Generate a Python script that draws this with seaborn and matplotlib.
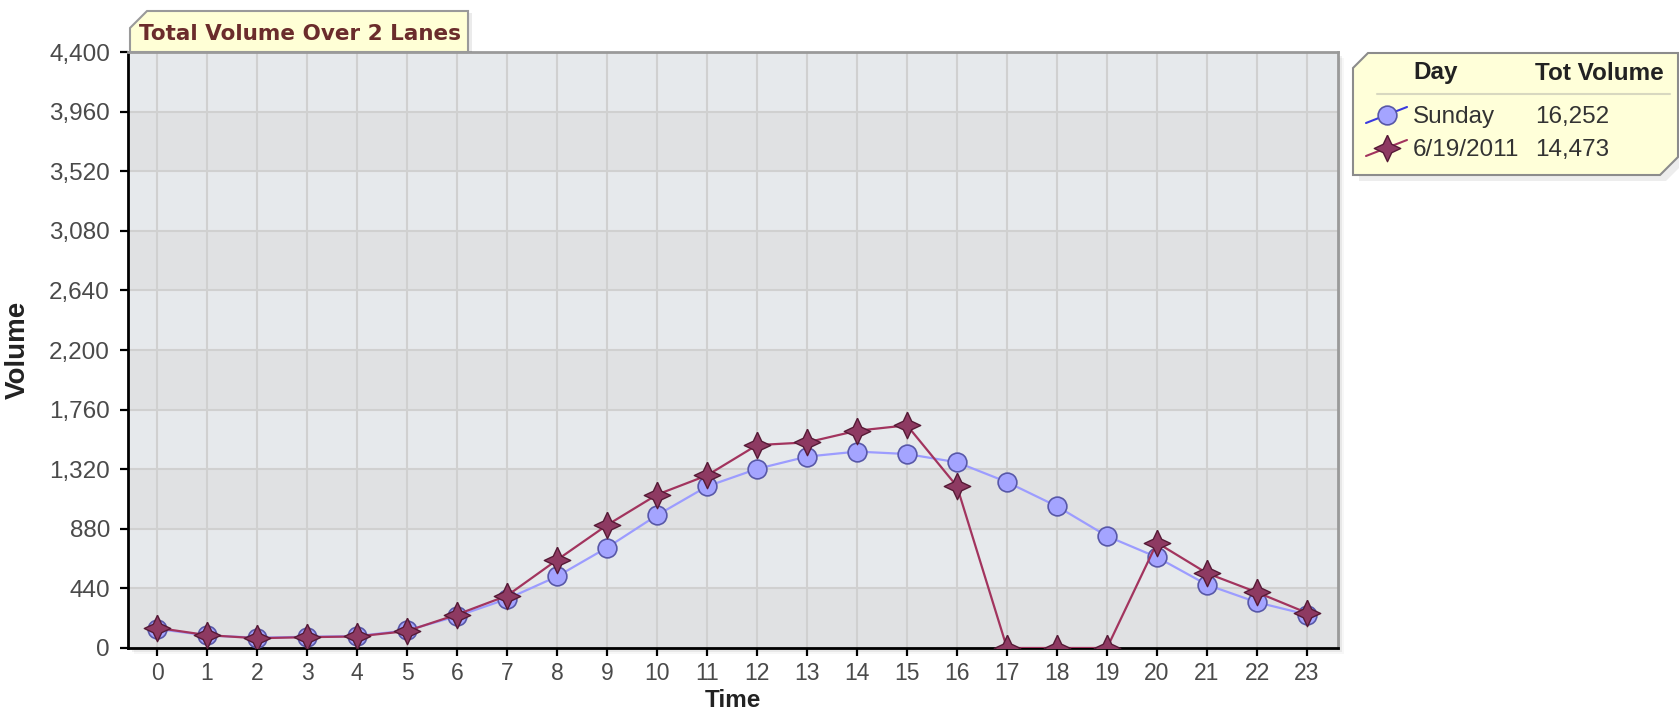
import matplotlib
matplotlib.use("Agg")
import matplotlib.pyplot as plt
from matplotlib.patches import Polygon
from matplotlib.lines import Line2D
from matplotlib.ticker import FuncFormatter
import seaborn as sns

# ---------------- data ----------------
hours = list(range(24))
sunday = [141, 93, 76, 83, 88, 130, 235, 362, 528, 741, 980, 1193,
          1322, 1413, 1450, 1432, 1371, 1225, 1046, 826, 670, 467, 337, 247]
day_2011 = [149, 95, 72, 80, 85, 125, 247, 386, 650, 907, 1132, 1274,
            1498, 1518, 1604, 1644, 1193, 0, 0, 0, 777, 552, 411, 259]
series_names = ["Sunday", "6/19/2011"]
series_totals = ["16,252", "14,473"]
y_ticks = [0, 440, 880, 1320, 1760, 2200, 2640, 3080, 3520, 3960, 4400]
title_text = "Total Volume Over 2 Lanes"
legend_headers = ["Day", "Tot Volume"]

# ---------------- style ----------------
sns.set_style("white")
plt.rcParams["font.family"] = ["Liberation Sans", "DejaVu Sans"]

W, H = 1679, 713
fig = plt.figure(figsize=(W / 100, H / 100), dpi=100)
fig.patch.set_facecolor("white")

AX_L, AX_R, AX_T, AX_B = 128, 1338, 52, 648
ax = fig.add_axes([AX_L / W, 1 - AX_B / H, (AX_R - AX_L) / W, (AX_B - AX_T) / H])

# background / foreground overlay axes in pixel coordinates (decoration only)
bg = fig.add_axes([0, 0, 1, 1], zorder=-1)
bg.set_xlim(0, W); bg.set_ylim(H, 0); bg.axis("off")
ov = fig.add_axes([0, 0, 1, 1], zorder=10)
ov.set_xlim(0, W); ov.set_ylim(H, 0); ov.axis("off")

# axes shadow
for i, a in enumerate([0.10, 0.06, 0.03]):
    off = 2 + i * 2
    bg.add_patch(Polygon([(AX_L + off, AX_T + off), (AX_R + off, AX_T + off),
                          (AX_R + off, AX_B + off), (AX_L + off, AX_B + off)],
                         closed=True, facecolor="black", alpha=a, edgecolor="none"))

# alternating bands
light, dark = "#e6e9ec", "#e0e1e3"
for i in range(len(y_ticks) - 1):
    ax.axhspan(y_ticks[i], y_ticks[i + 1], color=dark if i % 2 == 0 else light,
               zorder=0.1, lw=0)

ax.set_xlim(-0.58, 23.62)
ax.set_ylim(0, 4400)
ax.set_xticks(hours)
ax.set_yticks(y_ticks)
ax.yaxis.set_major_formatter(FuncFormatter(lambda v, p: f"{int(v):,}"))
ax.grid(True, color="#d0d0d0", lw=1.5, zorder=0.5)
ax.set_axisbelow(True)

# ---------------- series ----------------
sun_line, sun_face, sun_edge = "#9c9cff", "#a4a4ff", "#5858a8"
d_line, d_face, d_edge = "#a2345e", "#8e3a62", "#561a36"
star = [(0, 1), (0.32, 0.32), (1, 0), (0.32, -0.32), (0, -1),
        (-0.32, -0.32), (-1, 0), (-0.32, 0.32), (0, 1)]

sns.lineplot(x=hours, y=sunday, ax=ax, color=sun_line, lw=1.6,
             marker="o", markersize=13.5, markerfacecolor=sun_face,
             markeredgecolor=sun_edge, markeredgewidth=1.2, zorder=3)
sns.lineplot(x=hours, y=day_2011, ax=ax, color=d_line, lw=1.6,
             marker=star, markersize=19, markerfacecolor=d_face,
             markeredgecolor=d_edge, markeredgewidth=1.0, zorder=4)

# ---------------- axes cosmetics ----------------
for side in ["left", "bottom"]:
    ax.spines[side].set_color("black"); ax.spines[side].set_linewidth(2)
for side in ["top", "right"]:
    ax.spines[side].set_color("#9a9a9a"); ax.spines[side].set_linewidth(2)
ax.tick_params(direction="out", length=6, width=1.6, color="black",
               labelsize=17.5, labelcolor="#4a4a4a", pad=7,
               top=False, right=False, left=True, bottom=True)
ax.tick_params(axis="x", pad=4, labelsize=16.5)
ax.set_xlabel("Time", fontsize=17.5, fontweight="bold", color="#222222")
ax.set_ylabel("Volume", fontsize=20, fontweight="bold", color="#222222")
ax.xaxis.label.set_va("bottom")
ax.xaxis.set_label_coords(0.5, (AX_B - 712) / (AX_B - AX_T))
ax.yaxis.set_label_coords(-0.08, 0.5)

# ---------------- title tab ----------------
tx0, tx1, ty0, ty1, cut = 130, 468, 11, AX_T, 17
ov.add_patch(Polygon([(tx0 + 4, ty0 + cut + 2), (tx0 + cut + 4, ty0 + 2), (tx1 + 4, ty0 + 2), (tx1 + 4, ty1)],
                     closed=True, facecolor="black", alpha=0.08, edgecolor="none"))
ov.add_patch(Polygon([(tx0 + cut, ty0), (tx1, ty0), (tx1, ty1), (tx0, ty1), (tx0, ty0 + cut)],
                     closed=True, facecolor="#ffffd6", edgecolor="#9a9a9a", lw=1.5))
ov.text(139, 34, title_text, ha="left", va="center", fontsize=15.5,
        fontweight="bold", family="DejaVu Sans", color="#6b2c2c")

# ---------------- legend box ----------------
lx0, lx1, ly0, ly1 = 1353, 1678, 53, 175
lcut1, lcut2 = 15, 18
shadow = [(lx0 + lcut1 + 6, ly0 + 6), (lx1 + 6, ly0 + 6), (lx1 + 6, ly1 - lcut2 + 6),
          (lx1 - lcut2 + 6, ly1 + 6), (lx0 + 6, ly1 + 6), (lx0 + 6, ly0 + lcut1 + 6)]
ov.add_patch(Polygon(shadow, closed=True, facecolor="black", alpha=0.07, edgecolor="none"))
ov.add_patch(Polygon([(lx0 + lcut1, ly0), (lx1, ly0), (lx1, ly1 - lcut2), (lx1 - lcut2, ly1),
                      (lx0, ly1), (lx0, ly0 + lcut1)],
                     closed=True, facecolor="#ffffd9", edgecolor="#8c8c8c", lw=1.5))
col1, col2 = 1413, 1535
ov.text(col1, 73, legend_headers[0], ha="left", va="center", fontsize=17.5,
        fontweight="bold", color="#222222")
ov.text(col2, 73, legend_headers[1], ha="left", va="center", fontsize=17.5,
        fontweight="bold", color="#222222")
ov.add_line(Line2D([1377, 1670], [94, 94], color="#d8d8c0", lw=1.5))

rows_y = [117, 150]
icon_specs = [
    dict(color="#3a3ae0", marker="o", ms=13.5, mfc=sun_face, mec=sun_edge, mew=1.2),
    dict(color="#a2345e", marker=star, ms=19, mfc=d_face, mec=d_edge, mew=1.0),
]
for name, tot, yy, spec in zip(series_names, series_totals, rows_y, icon_specs):
    ov.add_line(Line2D([1366, 1407], [yy + 6, yy - 10], color=spec["color"], lw=1.5))
    ov.add_line(Line2D([1387], [yy - 2], marker=spec["marker"], ms=spec["ms"],
                       markerfacecolor=spec["mfc"], markeredgecolor=spec["mec"],
                       markeredgewidth=spec["mew"], lw=0))
    ov.text(col1, yy, name, ha="left", va="center", fontsize=17.5, color="#333333")
    ov.text(col2, yy, tot, ha="left", va="center", fontsize=17.5, color="#333333")

fig.savefig("out.png", dpi=100)
